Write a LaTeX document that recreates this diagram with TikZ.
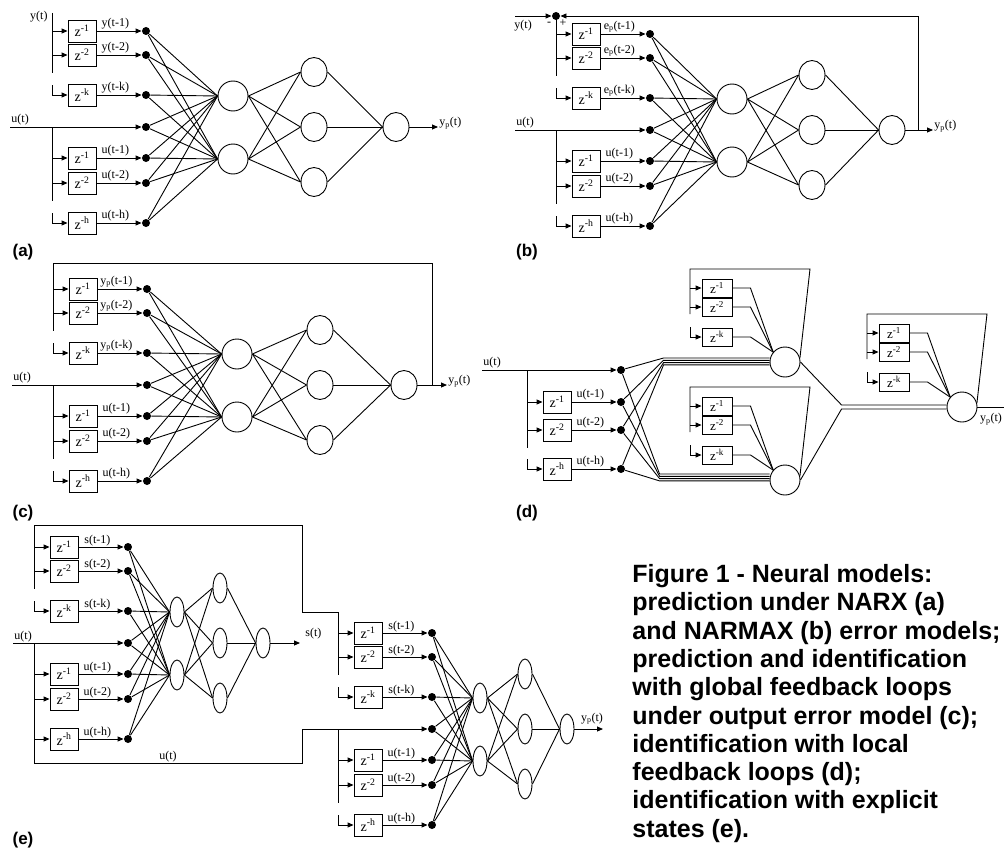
\documentclass[tikz,border=0pt]{standalone}
\usepackage{fontspec}
\setmainfont{Liberation Serif}
\newfontfamily\capfont{Liberation Sans}
\usetikzlibrary{arrows.meta,shapes.geometric,calc}
\tikzset{
  txt/.style={font=\fontsize{12}{12}\selectfont,inner sep=1pt},
  lbl/.style={txt,above,pos=0.42},
  dly/.style={draw,minimum width=28pt,minimum height=22pt,inner sep=0pt,font=\fontsize{14}{14}\selectfont},
  dlys/.style={dly,minimum width=30pt,minimum height=18pt,font=\fontsize{13}{13}\selectfont},
  tap/.style={circle,fill,inner sep=0pt,minimum size=8pt},
  hid/.style={draw,circle,inner sep=0pt,minimum size=30pt},
  neu/.style={draw,ellipse,inner sep=0pt,minimum width=26pt,minimum height=29pt},
  slim/.style={draw,ellipse,inner sep=0pt,minimum width=14pt,minimum height=30pt},
  sig/.style={-{Triangle[length=6pt,width=5pt]}},
  plab/.style={font=\capfont\bfseries\fontsize{17}{17}\selectfont},
  capt/.style={font=\capfont\bfseries\fontsize{25}{28.3}\selectfont,align=left,inner sep=0pt},
}
% tapped delay line: name, signal, last lag, three rows, top of the bus
\newcommand{\taps}[7]{%
  \coordinate (#1t) at (0,#7);
  \coordinate (#1e) at (0,#5+18);
  \foreach \r/\y/\l in {1/#4/1,2/#5/2,3/#6/#3}{
    \node[dly] (#1\r) at (30,\y) {z\textsuperscript{-\l}};
    \node[tap] (#1d\r) at (94,\y) {};
    \draw[sig] (#1\r) -- node[lbl]{#2(t-\l)} (#1d\r);
  }
  \draw (#1t) -- (#1e);
  \draw[sig] (#1t |- #11.west) -- (#11.west);
  \draw[sig] (#1t |- #12.west) -- (#12.west);
  \draw[sig] (#1t |- #13.west) ++(0,-10) |- (#13.west);
}
% whole network: name, fed-back signal, top of its bus, x of the three layers
\newcommand{\stdnet}[6]{%
  \taps{#1s}{#2}{k}{-96}{-72}{-32}{#3}
  \taps{#1u}{u}{h}{31}{56}{96}{0}
  \node[tap] (#1ud0) at (94,0) {};
  \draw[sig] (#1ut) -- (#1ud0);
  \node[hid] (#1h1) at (#4,-31) {};
  \node[hid] (#1h2) at (#4,32) {};
  \foreach \m/\y in {1/-55,2/0,3/55} \node[neu] (#1g\m) at (#5,\y) {};
  \node[neu] (#1o) at (#6,0) {};
  \foreach \d in {sd1,sd2,sd3,ud0,ud1,ud2,ud3}
    \foreach \n in {1,2} \draw (#1\d) -- (#1h\n.west);
  \foreach \n in {1,2} \foreach \m in {1,2,3} \draw (#1h\n.east) -- (#1g\m.west);
  \foreach \m in {1,2,3} \draw (#1g\m.east) -- (#1o.west);
}
% local feedback loop round one neuron
\newcommand{\localloop}[1]{%
  \foreach \r/\y/\l in {1/-74/1,2/-55/2,3/-25/k}{
    \node[dlys] (#1z\r) at ($(#1)+(-68,\y)$) {z\textsuperscript{-\l}};
    \draw (#1z\r.east) -- ++(18,0) -- (#1.140);
  }
  \coordinate (#1t) at ($(#1)+(-95,-93)$);
  \coordinate (#1c) at ($(#1)+(25,-93)$);
  \coordinate (#1e) at ($(#1)+(-95,-48)$);
  \draw (#1e) -- (#1t) -- (#1c) -- (#1.15);
  \draw[sig] (#1t |- #1z1.west) -- (#1z1.west);
  \draw[sig] (#1t |- #1z2.west) -- (#1z2.west);
  \draw[sig] (#1t |- #1z3.west) ++(0,-10) |- (#1z3.west);
}

\begin{document}
\begin{tikzpicture}[x=1pt,y=-1pt,line width=0.9pt]
  \useasboundingbox (0,0) rectangle (1004,859);

  % (a) NARX
  \begin{scope}[shift={(52,127)}]
    \stdnet{a}{y}{-114}{181}{262}{344}
    \node[txt,anchor=east] (ayt) at (-3,-110) {y(t)};
    \coordinate (ain) at (-42,0);
    \node[txt,anchor=south west] (aul) at (ain) {u(t)};
    \draw (ain) -- (aut);
    \coordinate (ay) at (386,0);
    \draw[sig] (ao) -- (ay) node[txt,right,yshift=4pt] (ayl) {y\textsubscript{p}(t)};
  \end{scope}

  % (b) NARMAX
  \begin{scope}[shift={(556,130)}]
    \stdnet{b}{e\textsubscript{p}}{-114}{176}{256}{336}
    \node[tap] (bsum) at (0,-114) {};
    \coordinate (byin) at (-41,-114);
    \draw[sig] (byin) -- (bsum);
    \node[txt,anchor=north west] (byl) at (-43,-111) {y(t)};
    \node[txt] (bm) at (-7,-106) {-};
    \node[txt] (bp) at (7,-107) {+};
    \coordinate (bin) at (-41,0);
    \node[txt,anchor=south west] (bul) at (bin) {u(t)};
    \draw (bin) -- (but);
    \coordinate (by) at (377,0);
    \coordinate (bfb) at (362,0);
    \draw[sig] (bo) -- (by) node[txt,right,yshift=4pt] (byo) {y\textsubscript{p}(t)};
    \draw[sig] (bfb) |- (bsum);
  \end{scope}

  % (c) output error
  \begin{scope}[shift={(53,385)}]
    \stdnet{c}{y\textsubscript{p}}{-122}{184}{267}{351}
    \coordinate (cin) at (-41,0);
    \node[txt,anchor=south west] (cul) at (cin) {u(t)};
    \draw (cin) -- (cut);
    \coordinate (cy) at (394,0);
    \coordinate (cfb) at (379,0);
    \draw[sig] (co) -- (cy) node[txt,right,yshift=4pt] (cyo) {y\textsubscript{p}(t)};
    \draw (cfb) |- (cst);
  \end{scope}

  % (d) local feedback
  \begin{scope}[shift={(527,370)}]
    \taps{du}{u}{h}{32}{60}{99}{0}
    \node[tap] (dud0) at (94,0) {};
    \draw[sig] (dut) -- (dud0);
    \coordinate (din) at (-45,0);
    \node[txt,anchor=south west] (dul) at (din) {u(t)};
    \draw (din) -- (dut);
    \node[hid] (dA) at (258,-8) {};
    \node[hid] (dB) at (258,110) {};
    \node[hid] (dO) at (435,37) {};
    \foreach \d/\s in {0/4,1/1.7,2/-0.6,3/-2.9}
      \draw (dud\d) -- ([xshift=-106pt,yshift=\s pt]dA.west) -- ([yshift=\s pt]dA.west);
    \foreach \d/\s in {0/6,1/3.7,2/1.4,3/-0.9}
      \draw (dud\d) -- ([xshift=-110pt,yshift=\s pt]dB.west) -- ([yshift=\s pt]dB.west);
    \localloop{dA}
    \localloop{dB}
    \localloop{dO}
    \draw (dA.east) -- ([xshift=-105pt,yshift=2pt]dO.west) -- ([yshift=2pt]dO.west);
    \draw (dB.east) -- ([xshift=-105pt,yshift=-2pt]dO.west) -- ([yshift=-2pt]dO.west);
    \coordinate (dy) at (477,37);
    \draw (dO.east) -- (dy);
    \node[txt,anchor=north] (dyo) at (464,42) {y\textsubscript{p}(t)};
  \end{scope}

  % (e) explicit states
  \begin{scope}[shift={(34,643)},hid/.style={slim},neu/.style={slim}]
    \stdnet{e}{s}{-118}{143}{186}{229}
    \coordinate (ein) at (-21,0);
    \node[txt,anchor=south west] (eul) at (ein) {u(t)};
    \draw (ein) -- (eut);
    \coordinate (eout) at (266,0);
    \draw[sig] (eo) -- (eout);
    \node[txt,anchor=south west] (esl) at (270,-3) {s(t)};
    \coordinate (ef) at (268,-118);
    \coordinate (ej) at (268,-31);
    \coordinate (eb) at (0,120);
    \coordinate (ebr) at (268,120);
  \end{scope}
  \begin{scope}[shift={(338,729)},hid/.style={slim},neu/.style={slim}]
    \stdnet{f}{s}{-117}{142}{187}{229}
    \coordinate (fy) at (265,0);
    \draw[sig] (fo) -- (fy);
    \node[txt,anchor=south] (fyo) at (254,-3) {y\textsubscript{p}(t)};
  \end{scope}
  \draw (est) -- (ef) -- (ej) -- (fst);
  \draw (eut) -- (eb) -- node[txt,above] (eul2) {u(t)} (ebr) |- (fut);

  % panel letters and caption
  \node[plab] (la) at (23,252) {(a)};
  \node[plab] (lb) at (527,252) {(b)};
  \node[plab] (lc) at (23,513) {(c)};
  \node[plab] (ld) at (527,513) {(d)};
  \node[plab] (le) at (23,840) {(e)};
  \node[capt,anchor=north west] (cap) at (632,564) {Figure 1 - Neural models:\\
    prediction under NARX (a)\\and NARMAX (b) error models;\\
    prediction and identification\\with global feedback loops\\
    under output error model (c);\\identification with local\\
    feedback loops (d);\\identification with explicit\\states (e).};
\end{tikzpicture}
\end{document}
